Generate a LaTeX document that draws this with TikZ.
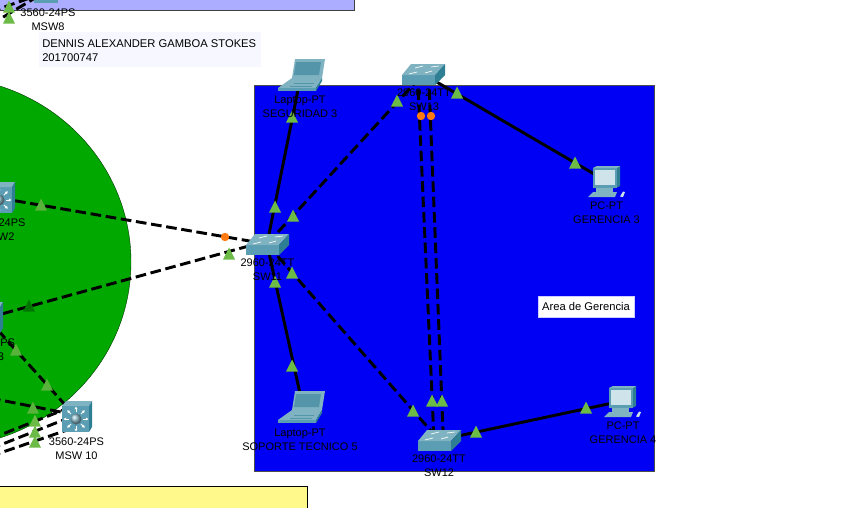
\documentclass[tikz,border=0pt]{standalone}
\usepackage{fontspec}
\setmainfont{Liberation Sans}
\usetikzlibrary{calc,arrows.meta}
\definecolor{netblue}{HTML}{0000F4}
\definecolor{netgreen}{HTML}{00A800}
\definecolor{linkgreen}{HTML}{6CBB46}
\definecolor{linkdim}{HTML}{58B23C}
\definecolor{linkorange}{HTML}{FF7A10}
\definecolor{iconfront}{HTML}{5B9DB3}
\definecolor{icontop}{HTML}{7FB3C1}
\definecolor{iconside}{HTML}{2F7F94}
\definecolor{iconpale}{HTML}{CFE3EA}
\definecolor{iconscreen}{HTML}{5595A9}
\tikzset{
  x=0.75pt,y=-0.75pt,
  solidlink/.style={draw=black,line width=2.2pt},
  dashlink/.style={draw=black,line width=2.2pt,dash pattern=on 8pt off 3.5pt},
  devlabel/.style={font=\fontsize{8.25pt}{10.5pt}\selectfont,align=center,inner sep=0pt,text=black},
  tri/.style={fill=linkgreen,draw=none},
  hub/.style={circle,inner sep=0pt,minimum size=1pt},
  pics/switchicon/.style={code={
    \fill[iconfront] (-21,1) rectangle (12,11);
    \fill[icontop] (-21,1) -- (-12,-10) -- (22,-10) -- (12,1) -- cycle;
    \fill[iconside] (12,1) -- (22,-10) -- (22,1) -- (12,11) -- cycle;
    \draw[white,line width=0.5pt] (-14,0) -- (-6,-2) (-8,-6) -- (0,-8) (2,-1) -- (9,-3) (8,-7) -- (16,-8);
  }},
  pics/msicon/.style={code={
    \fill[iconfront] (-14,-11) rectangle (13,15);
    \fill[icontop] (-14,-11) -- (-10,-16) -- (16,-16) -- (13,-11) -- cycle;
    \fill[iconside] (13,-11) -- (16,-16) -- (16,10) -- (13,15) -- cycle;
    \foreach \a in {0,45,...,315} \draw[white,line width=0.6pt,-{Latex[length=2pt,width=2.5pt]}] ($(0,2)+(\a:7)$) -- ($(0,2)+(\a:12.5)$);
    \shade[ball color=iconfront!70!white] (0,2) circle (5.5);
  }},
  pics/laptopicon/.style={code={
    \fill[icontop] (-25,13) -- (-11,3) -- (19,3) -- (13,13) -- cycle;
    \fill[iconfront] (-25,13) rectangle (13,16);
    \fill[iconside] (13,13) -- (19,3) -- (19,6) -- (13,16) -- cycle;
    \fill[icontop] (-11,3) -- (-8,-16) -- (22,-16) -- (19,3) -- cycle;
    \fill[iconscreen] (-7,-13) -- (18,-13) -- (16,0) -- (-9,0) -- cycle;
    \draw[iconscreen,line width=0.5pt] (-9,8) -- (11,8) (-13,11) -- (9,11);
  }},
  pics/pcicon/.style={code={
    \fill[iconside] (-13,-13) -- (-9,-15) -- (14,-15) -- (14,5) -- (10,7) -- (-13,7) -- cycle;
    \fill[iconfront] (-13,-13) rectangle (11,7);
    \fill[icontop] (-13,-13) -- (-9,-15) -- (14,-15) -- (11,-13) -- cycle;
    \fill[iconpale] (-11,-11) rectangle (9,4);
    \fill[icontop] (-10,7) rectangle (7,11);
    \fill[icontop] (-13,11) -- (11,11) -- (9,16) -- (-18,16) -- cycle;
    \fill[iconpale] (14,15.5) -- (17,10.5) -- (19,11) -- (17,16) -- cycle;
  }}
}
\newcommand{\linktri}[2]{\fill[tri,#2] ($(#1)+(0,-6.5)$) -- ($(#1)+(6,5.5)$) -- ($(#1)+(-6,5.5)$) -- cycle;}
\newcommand{\linkdot}[1]{\fill[linkorange] (#1) circle (4.2);}
\begin{document}
\begin{tikzpicture}
\useasboundingbox (0,0) rectangle (855,507);
\clip (0,0) rectangle (855,507);
% areas
\fill[white] (0,0) rectangle (855,507);
\fill[netgreen,draw=black!70!netgreen,line width=0.3pt] (-59,262) ellipse [x radius=190,y radius=185];
\fill[netblue] (254.5,85) rectangle (654.5,471);
\draw[black!70,line width=0.6pt] (654.5,85) -- (254.5,85) -- (254.5,471) -- (654.5,471) -- cycle;
\fill[fill=blue!32!white,draw=black!75] (-5,-10) rectangle (354,10);
\fill[fill=yellow!45!white,draw=black] (-5,486) rectangle (307,515);
\fill[blue!3!white] (39,32) rectangle (261,67);
% device anchors
\node[hub] (lap3) at (303,75) {};
\node[hub] (sw13) at (423,74) {};
\node[hub] (sw11) at (267,244) {};
\node[hub] (sw12) at (439,440) {};
\node[hub] (lap5) at (303,407) {};
\node[hub] (pc3) at (606,181) {};
\node[hub] (pc4) at (622,401) {};
\node[hub] (msw10) at (76,417) {};
\node[hub] (msw2) at (-1,198) {};
\node[hub] (msw3) at (-13,318) {};
\node[hub] (msw8) at (47,-8) {};
\coordinate (lap3c) at (301,75);
\coordinate (sw11w) at (267,241);
\coordinate (west1) at (-10,398);
\coordinate (west2) at (-10,439);
\coordinate (west3) at (-10,449);
\coordinate (west4) at (-10,456.4);
\coordinate (msw8a) at (-10,12);
\coordinate (msw8b) at (-10,25);
\coordinate (sw13l) at (417.5,74);
\coordinate (sw13r) at (428.6,74);
\coordinate (sw12l) at (434,440);
\coordinate (sw12r) at (443.4,440);
\coordinate (m10w) at (76,415);
\coordinate (m10a) at (76,405);
\coordinate (m10b) at (76,415);
\coordinate (m10c) at (76,427);
\coordinate (msw8c) at (40,-5);
% links
\draw[solidlink] (lap3c) -- (sw11);
\draw[dashlink] (sw11) -- (sw13);
\draw[solidlink] (sw13) -- (pc3);
\draw[dashlink] (sw13l) -- (sw12l);
\draw[dashlink] (sw13r) -- (sw12r);
\draw[dashlink] (sw11) -- (sw12);
\draw[solidlink] (lap5) -- (sw11);
\draw[solidlink] (sw12) -- (pc4);
\draw[dashlink] (msw2) -- (sw11);
\draw[dashlink] (msw3) -- (sw11w);
\draw[dashlink] (msw3) -- (msw10);
\draw[dashlink] (west1) -- (m10w);
\draw[dashlink] (west2) -- (m10a);
\draw[dashlink] (west3) -- (m10b);
\draw[dashlink] (west4) -- (m10c);
\draw[dashlink] (msw8a) -- (msw8);
\draw[dashlink] (msw8b) -- (msw8c);
% link lights
\linktri{292,117}{}
\linktri{397,101}{}
\linktri{457,93}{}
\linktri{575,163}{}
\linktri{275,207}{}
\linktri{293,216}{}
\linktri{275,282}{}
\linktri{292,273}{}
\linktri{292,366}{}
\linktri{413,411}{}
\linktri{432,401}{}
\linktri{442,401}{}
\linktri{476,432}{}
\linktri{586,408}{}
\linktri{229,254}{}
\linktri{41,205}{fill=linkdim}
\linktri{29,306}{fill=netgreen!70!black}
\linktri{16,350}{fill=linkdim}
\linktri{47,385}{fill=linkdim}
\linktri{33,408}{fill=linkdim}
\linktri{35,421}{}
\linktri{35,432}{}
\linktri{35,442}{}
\linktri{9,7}{}
\linktri{9,18}{}
\linkdot{225,237}
\linkdot{421,116}
\linkdot{431,116}
% icons
\pic at (lap3) {laptopicon};
\pic at (lap5) {laptopicon};
\pic at (sw13) {switchicon};
\pic at (sw11) {switchicon};
\pic at (sw12) {switchicon};
\pic at (pc3) {pcicon};
\pic at (pc4) {pcicon};
\pic at (msw10) {msicon};
\pic at (msw2) {msicon};
\pic at (msw3) {msicon};
\fill[iconfront] (34,-5) rectangle (58,3);
\fill[iconside] (58,-5) rectangle (63,0);
% labels
\node[devlabel] (l1) at (300,107) {Laptop-PT\\SEGURIDAD 3};
\node[devlabel] (l2) at (424,100) {2960-24TT\\SW13};
\node[devlabel] (l3) at (267.5,270) {2960-24TT\\SW11};
\node[devlabel] (l4) at (439,466) {2960-24TT\\SW12};
\node[devlabel] (l5) at (300,440) {Laptop-PT\\SOPORTE TECNICO 5};
\node[devlabel] (l6) at (606.5,213) {PC-PT\\GERENCIA 3};
\node[devlabel] (l7) at (623,433) {PC-PT\\GERENCIA 4};
\node[devlabel] (l8) at (76.5,449) {3560-24PS\\MSW 10};
\node[devlabel] (l9) at (-2,230) {3560-24PS\\MSW2};
\node[devlabel] (l10) at (-12.5,350) {3560-24PS\\MSW3};
\node[devlabel] (l11) at (48,20) {3560-24PS\\MSW8};
\node[devlabel,anchor=west,align=left,font=\fontsize{8.4pt}{10.5pt}\selectfont] (who) at (42,51) {DENNIS ALEXANDER GAMBOA STOKES\\201700747};
\node[draw=blue!20!white,fill=white,line width=0.5pt,font=\fontsize{8.4pt}{10pt}\selectfont,inner sep=0pt,minimum width=72pt,minimum height=15.5pt] (area) at (586,306.5) {Area de Gerencia};
\end{tikzpicture}
\end{document}
